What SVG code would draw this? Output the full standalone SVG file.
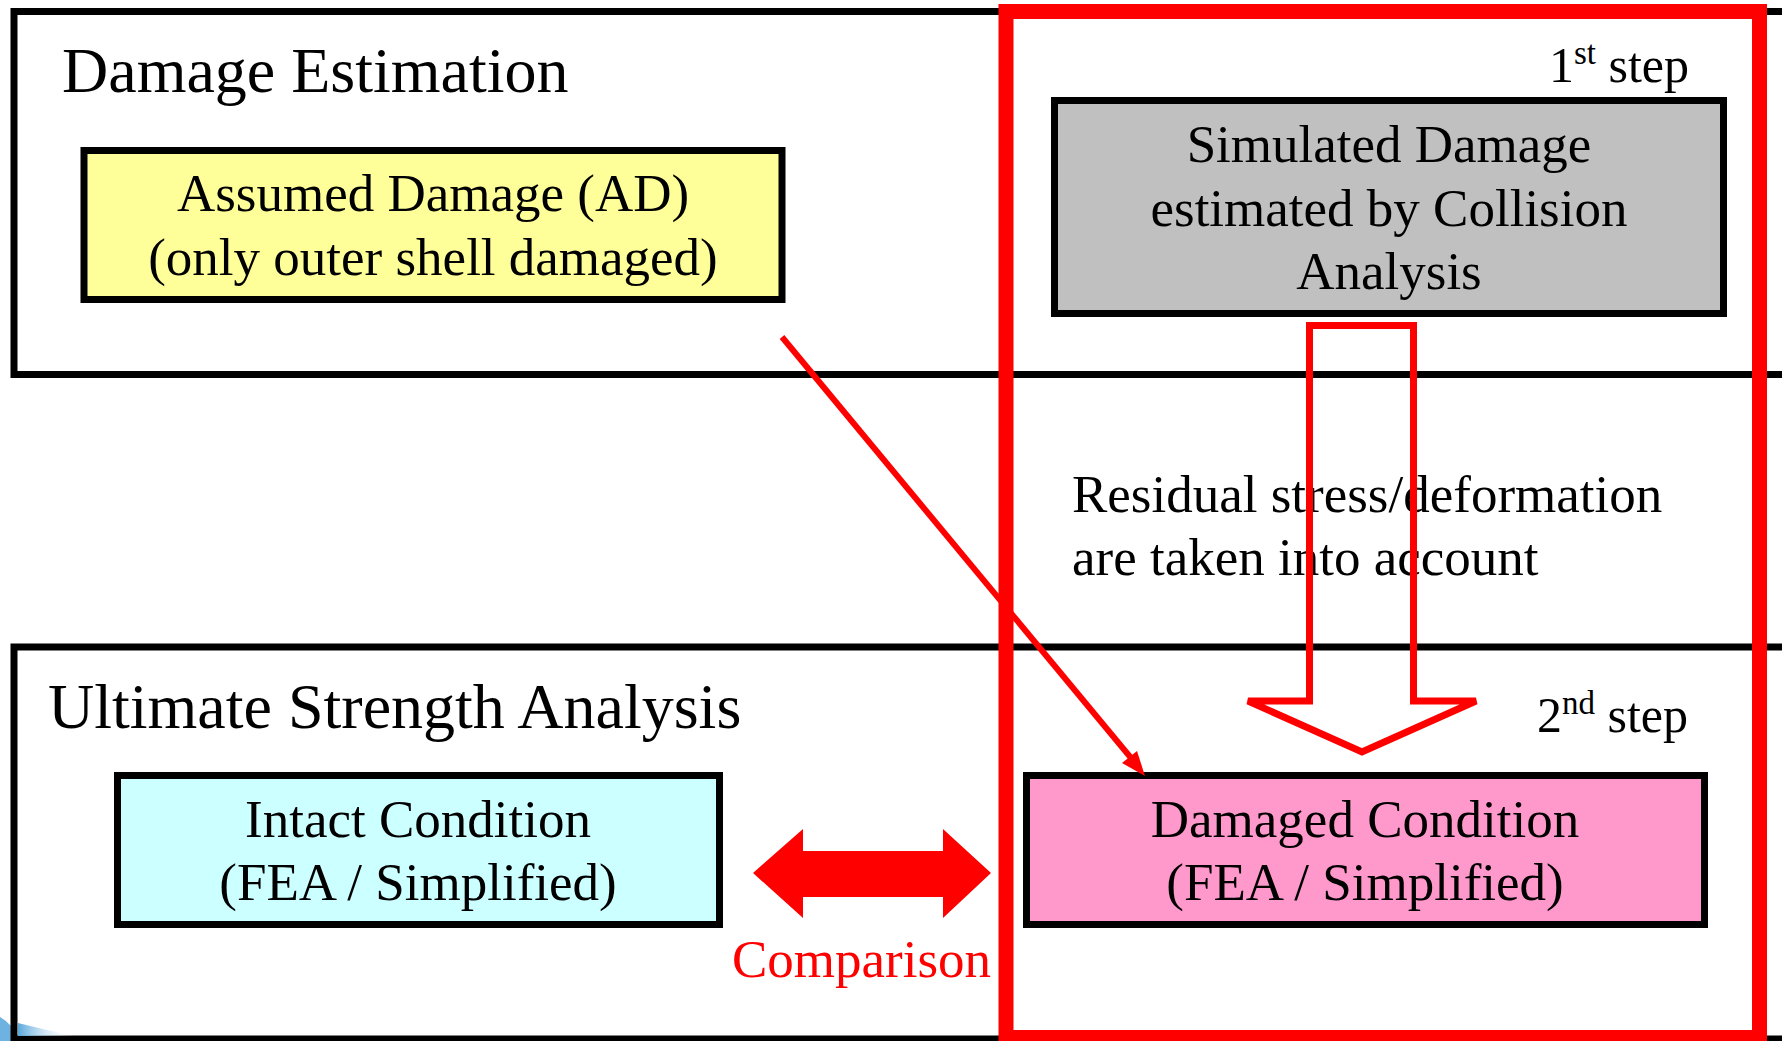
<svg xmlns="http://www.w3.org/2000/svg" width="1782" height="1041" viewBox="0 0 1782 1041">
<defs>
<style>
text{font-family:"Liberation Serif","Times New Roman",serif;fill:#000}
.h{font-size:64px}
.t{font-size:53px}
.c{text-anchor:middle}
.s{font-size:50px;text-anchor:end}
.panel{fill:#fff;stroke:#000;stroke-width:7}
.box{stroke:#000;stroke-width:7}
.red{fill:none;stroke:#ff0000}
</style>
<linearGradient id="sw" x1="0" y1="0" x2="1" y2="0">
<stop offset="0" stop-color="#5aa8dc"/>
<stop offset="1" stop-color="#ffffff" stop-opacity="0"/>
</linearGradient>
</defs>
<rect width="1782" height="1041" fill="#fff"/>
<g id="bg-swoosh">
<path d="M0,1017 Q7,1021 11,1026 L11,1041 L0,1041 Z" fill="#6db2e0"/>
</g>
<g id="panel-damage-estimation">
<rect class="panel" x="14" y="11.5" width="1800" height="363"/>
<text class="h" x="62" y="92">Damage Estimation</text>
</g>
<g id="panel-ultimate-strength">
<rect class="panel" x="14" y="647" width="1800" height="392"/>
<path d="M18,1023 Q45,1030 75,1036 L18,1036 Z" fill="url(#sw)"/>
<text class="h" x="48" y="728">Ultimate Strength Analysis</text>
</g>
<g id="node-assumed-damage">
<rect class="box" x="84" y="150.5" width="698" height="149" fill="#ffff99"/>
<text class="t c" x="433" y="211">Assumed Damage (AD)</text>
<text class="t c" x="433" y="275">(only outer shell damaged)</text>
</g>
<g id="node-simulated-damage">
<rect class="box" x="1054.5" y="100.5" width="669" height="213" fill="#c0c0c0"/>
<text class="t c" x="1389" y="162">Simulated Damage</text>
<text class="t c" x="1389" y="226">estimated by Collision</text>
<text class="t c" x="1389" y="289">Analysis</text>
</g>
<g id="node-intact">
<rect class="box" x="117.5" y="775.5" width="602" height="149" fill="#ccffff"/>
<text class="t c" x="418" y="837">Intact Condition</text>
<text class="t c" x="418" y="900">(FEA / Simplified)</text>
</g>
<g id="node-damaged">
<rect class="box" x="1026.5" y="775.5" width="678" height="149" fill="#ff99cc"/>
<text class="t c" x="1365" y="837">Damaged Condition</text>
<text class="t c" x="1365" y="900">(FEA / Simplified)</text>
</g>
<g id="labels">
<text class="s" x="1689" y="82">1<tspan font-size="33" dy="-18">st</tspan><tspan dy="18"> step</tspan></text>
<text class="s" x="1688" y="732">2<tspan font-size="33" dy="-18">nd</tspan><tspan dy="18"> step</tspan></text>
<text class="t" x="1072" y="512">Residual stress/deformation</text>
<text class="t" x="1072" y="575">are taken into account</text>
<text class="t" x="732" y="977" style="fill:#ff0000">Comparison</text>
</g>
<g id="connectors">
<polygon class="red" stroke-width="7" points="1309.5,325.5 1413.5,325.5 1413.5,701 1476,701 1362,752 1248,701 1309.5,701"/>
<line x1="782" y1="337" x2="1136" y2="764" stroke="#ff0000" stroke-width="6"/>
<polygon points="1145,776 1122,763 1137,751" fill="#ff0000"/>
<polygon points="753,873 803,829 803,851 943,851 943,829 991,873 943,918 943,897 803,897 803,918" fill="#ff0000"/>
</g>
<g id="step-frame">
<rect class="red" stroke-width="15" x="1006" y="11.5" width="753.5" height="1026"/>
</g>
</svg>
